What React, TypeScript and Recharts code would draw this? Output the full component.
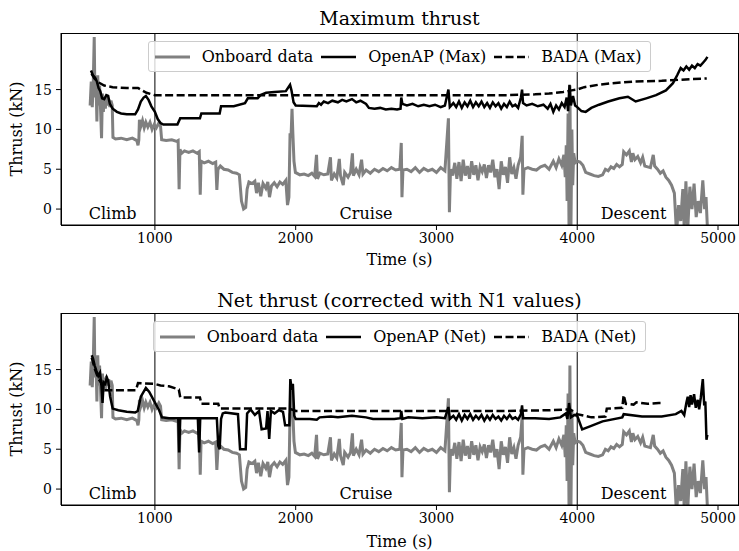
import { Legend, Line, LineChart, ReferenceDot, ReferenceLine, XAxis, YAxis } from "recharts";

const FONT = "'DejaVu Serif', serif";
const GRAY = "#808080";

const timeTicks = [1000, 2000, 3000, 4000, 5000];
const thrustTicks = [0, 5, 10, 15];
const phaseBounds = [1000, 4000];
const phases = [
  { name: "Climb", t: 700 },
  { name: "Cruise", t: 2500 },
  { name: "Descent", t: 4400 }
];

// onboard recorded thrust, same in both panels (t [s], kN)
const onboard: [number, number][] = [
  [540, 13.0], [548, 16.0], [555, 12.8], [562, 15.8], [569, 21.6], [574, 14.0], [581, 16.5], [588, 11.0],
  [594, 16.8], [600, 13.0], [607, 15.5], [614, 12.5], [621, 8.9], [627, 14.5], [634, 12.2], [641, 14.0],
  [648, 12.6], [656, 14.2], [664, 13.0], [672, 13.8], [680, 12.8], [688, 13.6], [697, 13.0], [702, 9.0],
  [720, 8.8], [760, 8.9], [800, 8.7], [840, 8.9], [872, 8.6], [880, 8.0], [886, 8.7], [890, 11.2],
  [900, 10.4], [912, 11.1], [924, 10.2], [936, 10.9], [950, 10.3], [965, 10.9], [980, 10.0], [995, 10.6],
  [1010, 10.2], [1028, 10.8], [1040, 10.4], [1048, 8.7], [1080, 8.6], [1120, 8.7], [1155, 8.5], [1165, 8.6],
  [1172, 2.5], [1178, 7.5], [1190, 7.0], [1210, 7.3], [1240, 7.1], [1270, 7.3], [1300, 7.0], [1315, 7.2],
  [1322, 1.8], [1328, 6.0], [1350, 5.8], [1380, 6.0], [1410, 5.7], [1432, 5.9], [1440, 2.4], [1448, 5.0],
  [1465, 5.4], [1490, 5.0], [1520, 4.9], [1550, 4.6], [1580, 4.5], [1600, 4.3], [1615, 1.0], [1630, 0.0],
  [1645, 0.2], [1655, 2.5], [1668, 3.4], [1690, 3.2], [1710, 3.5], [1722, 2.0], [1735, 3.3], [1752, 1.6],
  [1768, 3.2], [1788, 2.6], [1802, 3.4], [1814, 1.5], [1828, 2.9], [1848, 3.3], [1868, 2.8], [1888, 3.4],
  [1908, 3.1], [1930, 3.6], [1942, 0.5], [1952, 1.5], [1960, 9.5], [1967, 9.0], [1974, 12.6], [1980, 9.5],
  [1988, 6.0], [1998, 4.6], [2030, 4.3], [2060, 4.4], [2090, 4.2], [2115, 4.5], [2135, 4.1], [2148, 6.8],
  [2155, 3.8], [2172, 4.5], [2200, 4.3], [2228, 4.4], [2247, 6.5], [2254, 3.6], [2274, 4.4], [2292, 3.9],
  [2310, 6.3], [2318, 4.2], [2338, 3.0], [2348, 4.6], [2372, 4.0], [2390, 4.6], [2403, 7.0], [2410, 4.2],
  [2430, 5.0], [2450, 4.3], [2468, 6.2], [2478, 4.4], [2500, 4.9], [2530, 4.5], [2560, 5.0], [2590, 4.7],
  [2620, 5.1], [2650, 4.8], [2680, 5.2], [2710, 4.9], [2740, 5.0], [2750, 8.3], [2755, 1.5], [2762, 4.9],
  [2790, 5.0], [2820, 4.7], [2850, 5.2], [2880, 4.6], [2910, 5.1], [2940, 4.8], [2970, 5.0], [3000, 4.6],
  [3030, 5.2], [3060, 4.8], [3085, 11.4], [3092, -0.4], [3100, 5.0], [3115, 4.2], [3130, 5.8], [3145, 3.8],
  [3160, 5.9], [3175, 3.5], [3190, 6.2], [3205, 4.2], [3220, 5.4], [3235, 3.8], [3250, 6.0], [3265, 4.3],
  [3280, 5.5], [3295, 3.6], [3310, 5.3], [3325, 4.7], [3340, 5.6], [3355, 3.9], [3370, 5.5], [3385, 4.6],
  [3400, 6.2], [3415, 4.0], [3430, 5.0], [3445, 2.5], [3460, 6.0], [3475, 4.3], [3490, 5.3], [3505, 3.3],
  [3520, 6.5], [3535, 4.4], [3550, 5.2], [3565, 3.8], [3580, 5.5], [3598, 6.5], [3609, 9.2], [3614, 1.8],
  [3622, 5.0], [3650, 5.2], [3680, 5.0], [3710, 4.9], [3740, 5.3], [3770, 5.5], [3800, 5.0], [3830, 6.0],
  [3850, 5.2], [3870, 6.3], [3890, 5.5], [3905, 6.8], [3915, 4.0], [3922, 8.0], [3928, 1.0], [3935, 12.0],
  [3942, -3.0], [3948, 15.5], [3955, -3.0], [3962, 10.0], [3968, 3.0], [3975, 7.0], [3985, 5.8], [4000, 6.0],
  [4020, 5.9], [4040, 5.5], [4060, 4.6], [4090, 4.4], [4120, 4.2], [4150, 4.1], [4180, 4.3], [4200, 5.0],
  [4220, 4.8], [4240, 5.3], [4260, 5.1], [4280, 5.6], [4300, 5.3], [4320, 5.6], [4330, 7.2], [4350, 6.8],
  [4370, 7.3], [4385, 5.9], [4395, 7.0], [4410, 6.2], [4430, 6.6], [4450, 5.8], [4465, 6.5], [4480, 5.4],
  [4500, 5.3], [4520, 5.2], [4540, 6.8], [4550, 5.4], [4570, 5.0], [4590, 4.5], [4610, 4.8], [4630, 4.0],
  [4650, 3.6], [4670, 3.0], [4690, 2.0], [4705, -3.0], [4720, 0.5], [4735, -1.5], [4750, 2.5], [4760, -2.5],
  [4772, 3.5], [4785, -2.5], [4800, 2.8], [4815, 0.0], [4830, 3.2], [4845, -1.0], [4860, 1.0], [4875, -0.5],
  [4892, 3.6], [4905, 0.0], [4915, 1.5], [4925, -2.5]
];

const openapMax: [number, number][] = [
  [546, 17.4], [560, 16.8], [575, 16.5], [588, 16.0], [600, 15.2], [612, 14.8], [625, 13.9], [640, 13.8],
  [655, 14.3], [668, 14.2], [680, 13.2], [700, 12.6], [730, 12.2], [760, 12.0], [800, 11.9], [860, 11.9],
  [880, 12.5], [900, 13.5], [920, 14.0], [936, 14.2], [955, 13.7], [975, 12.9], [1000, 12.2], [1020, 11.3],
  [1040, 10.8], [1060, 10.6], [1160, 10.6], [1180, 11.4], [1320, 11.4], [1330, 12.0], [1460, 12.0], [1470, 12.9],
  [1560, 12.9], [1640, 13.3], [1660, 13.9], [1730, 13.9], [1750, 14.3], [1790, 14.6], [1850, 14.7], [1930, 14.8],
  [1960, 15.6], [1970, 14.9], [1985, 13.4], [2000, 13.0], [2150, 12.9], [2165, 13.3], [2180, 13.1], [2200, 13.5],
  [2230, 13.3], [2260, 13.6], [2300, 13.4], [2330, 13.7], [2360, 13.5], [2400, 13.8], [2430, 13.4], [2460, 13.6],
  [2500, 13.2], [2520, 12.7], [2560, 12.6], [2600, 12.7], [2640, 12.5], [2680, 12.6], [2720, 12.5], [2745, 12.6],
  [2750, 14.0], [2758, 13.2], [2790, 13.0], [2830, 13.2], [2870, 12.9], [2910, 13.1], [2950, 12.9], [2990, 13.1],
  [3030, 12.8], [3060, 13.0], [3085, 15.0], [3095, 12.8], [3120, 13.3], [3140, 12.8], [3160, 13.5], [3180, 12.7],
  [3200, 13.4], [3220, 12.9], [3240, 13.6], [3260, 12.8], [3280, 13.4], [3300, 12.9], [3320, 13.5], [3340, 12.8],
  [3360, 13.3], [3380, 12.7], [3400, 13.4], [3420, 12.9], [3440, 13.3], [3460, 12.6], [3480, 13.2], [3500, 12.8],
  [3520, 13.5], [3540, 12.9], [3560, 13.1], [3580, 12.7], [3600, 14.0], [3608, 15.0], [3615, 13.3], [3640, 13.0],
  [3680, 13.2], [3720, 12.9], [3760, 13.1], [3790, 12.6], [3810, 13.2], [3830, 12.2], [3850, 13.0], [3870, 12.5],
  [3890, 13.3], [3910, 12.8], [3925, 14.0], [3935, 12.3], [3945, 15.6], [3955, 13.0], [3970, 14.2], [3985, 13.0],
  [4000, 12.8], [4030, 12.3], [4060, 12.2], [4100, 12.7], [4155, 13.1], [4220, 13.5], [4300, 13.9], [4360, 14.1],
  [4415, 13.5], [4490, 13.9], [4560, 14.3], [4630, 14.9], [4680, 15.8], [4710, 16.8], [4735, 17.7], [4755, 17.4],
  [4775, 17.9], [4795, 17.5], [4815, 18.0], [4835, 17.7], [4855, 18.2], [4875, 18.0], [4895, 18.4], [4910, 18.7],
  [4925, 19.1]
];

const badaMax: [number, number][] = [
  [550, 17.0], [570, 16.4], [600, 15.9], [640, 15.5], [700, 15.3], [800, 15.2], [880, 15.2], [940, 14.6],
  [1000, 14.3], [2000, 14.3], [3000, 14.3], [3500, 14.3], [3700, 14.4], [3800, 14.5], [3900, 14.7], [3960, 14.9],
  [4000, 15.0], [4050, 15.3], [4150, 15.6], [4250, 15.8], [4400, 16.0], [4600, 16.1], [4800, 16.3], [4920, 16.4]
];

const openapNet: [number, number][] = [
  [551, 16.8], [560, 16.4], [572, 15.5], [585, 14.8], [598, 14.2], [610, 14.6], [620, 13.0], [628, 10.8],
  [636, 13.4], [648, 13.2], [658, 14.0], [668, 13.6], [682, 11.6], [700, 10.1], [740, 9.9], [800, 9.7],
  [860, 9.6], [878, 9.8], [900, 11.6], [936, 12.7], [960, 12.2], [990, 11.2], [1030, 9.9], [1050, 9.0],
  [1100, 8.9], [1166, 8.9], [1172, 4.6], [1180, 8.9], [1305, 8.9], [1314, 4.6], [1322, 8.9], [1440, 8.9],
  [1450, 5.4], [1460, 5.0], [1470, 8.8], [1482, 9.5], [1500, 9.6], [1590, 9.4], [1605, 5.0], [1645, 5.0],
  [1655, 9.5], [1680, 10.0], [1710, 9.3], [1740, 9.8], [1758, 7.5], [1790, 7.6], [1800, 9.8], [1812, 6.3],
  [1824, 9.8], [1850, 9.5], [1880, 9.9], [1910, 9.7], [1925, 8.0], [1955, 8.0], [1962, 13.8], [1970, 12.8],
  [1980, 13.2], [1990, 9.2], [2000, 8.8], [2100, 8.8], [2150, 8.7], [2170, 9.0], [2250, 9.1], [2300, 9.0],
  [2400, 9.2], [2500, 9.0], [2550, 8.8], [2700, 8.8], [2745, 8.9], [2750, 9.8], [2758, 8.8], [2800, 9.0],
  [2900, 8.9], [3000, 9.0], [3060, 8.9], [3085, 10.3], [3095, 8.8], [3120, 9.2], [3140, 8.7], [3160, 9.4],
  [3180, 8.6], [3200, 9.3], [3220, 8.8], [3240, 9.4], [3260, 8.7], [3280, 9.2], [3300, 8.8], [3320, 9.3],
  [3340, 8.6], [3360, 9.2], [3380, 8.7], [3400, 9.3], [3420, 8.8], [3440, 9.1], [3460, 8.6], [3480, 9.2],
  [3500, 8.8], [3520, 9.3], [3540, 8.8], [3560, 9.0], [3580, 8.7], [3600, 9.4], [3608, 10.5], [3616, 8.9],
  [3700, 8.9], [3800, 8.8], [3880, 9.0], [3920, 9.5], [3930, 8.8], [3942, 10.8], [3955, 9.0], [3980, 9.3],
  [4000, 9.2], [4035, 7.5], [4095, 7.9], [4180, 8.5], [4320, 9.0], [4330, 9.4], [4460, 9.1], [4600, 9.1],
  [4700, 9.4], [4740, 9.8], [4760, 9.3], [4775, 10.8], [4785, 11.6], [4795, 10.3], [4805, 11.8], [4815, 10.6],
  [4830, 11.9], [4842, 10.2], [4856, 11.2], [4866, 10.0], [4878, 11.5], [4892, 13.8], [4902, 10.5], [4910, 11.0],
  [4918, 6.2], [4924, 6.8]
];

const badaNet: [number, number][] = [
  [551, 16.5], [575, 15.0], [600, 13.8], [640, 12.8], [652, 12.4], [865, 12.4], [880, 13.3], [1000, 13.2],
  [1040, 13.0], [1100, 12.9], [1170, 12.5], [1180, 11.5], [1320, 11.5], [1330, 10.7], [1450, 10.7], [1460, 10.1],
  [1950, 10.1], [1990, 9.9], [2000, 9.8], [3500, 9.8], [3800, 9.9], [3950, 10.0], [4000, 9.4], [4100, 9.0],
  [4200, 9.1], [4210, 10.1], [4320, 10.2], [4330, 11.8], [4345, 10.7], [4400, 10.6], [4420, 10.9], [4500, 10.7],
  [4580, 10.8], [4610, 10.8]
];

const toPoints = (rows: [number, number][]) => rows.map(([t, v]) => ({ t, v }));

type LegendItem = { label: string; color: string; width: number; dash?: string };

function LegendBox({ items }: { items: LegendItem[] }) {
  return (
    <div style={{ display: "flex", justifyContent: "center" }}>
      <div
        style={{
          display: "flex",
          alignItems: "center",
          gap: 8,
          height: 29,
          padding: "0 9px 0 6px",
          border: "1px solid #cccccc",
          borderRadius: 3,
          background: "rgba(255,255,255,0.8)",
          fontFamily: FONT,
          fontSize: 16,
          color: "#000"
        }}
      >
        {items.map((it) => (
          <div key={it.label} style={{ display: "flex", alignItems: "center", gap: 12 }}>
            <svg width={35} height={10}>
              <line x1={0} x2={35} y1={5} y2={5} stroke={it.color} strokeWidth={it.width} strokeDasharray={it.dash} />
            </svg>
            <span>{it.label}</span>
          </div>
        ))}
      </div>
    </div>
  );
}

function Panel({
  top,
  title,
  titleY,
  xlabelY,
  model,
  openap,
  bada
}: {
  top: number;
  title: string;
  titleY: number;
  xlabelY: number;
  model: string;
  openap: [number, number][];
  bada: [number, number][];
}) {
  const items: LegendItem[] = [
    { label: "Onboard data", color: GRAY, width: 3 },
    { label: `OpenAP (${model})`, color: "#000", width: 2.5 },
    { label: `BADA (${model})`, color: "#000", width: 2.5, dash: "8 3.5" }
  ];
  const tickStyle = { fill: "#000", fontSize: 14, fontFamily: FONT };
  return (
    <div style={{ position: "absolute", left: 0, top, width: 739, height: 275, fontFamily: FONT }}>
      <div style={{ position: "absolute", left: 61, width: 677, top: titleY - 12, lineHeight: "24px", textAlign: "center", fontSize: 19 }}>
        {title}
      </div>
      <div
        style={{
          position: "absolute",
          left: 16.5 - 60,
          top: 129 - 10,
          width: 120,
          lineHeight: "20px",
          textAlign: "center",
          fontSize: 16,
          transform: "rotate(-90deg)"
        }}
      >
        Thrust (kN)
      </div>
      <div style={{ position: "absolute", left: 61, width: 677, top: xlabelY - 10, lineHeight: "20px", textAlign: "center", fontSize: 16 }}>
        Time (s)
      </div>
      <LineChart width={739} height={275} margin={{ top: 33, right: 1, bottom: 20, left: 11 }}>
        <XAxis
          dataKey="t"
          type="number"
          domain={[333, 5142]}
          ticks={timeTicks}
          allowDataOverflow
          tick={tickStyle}
          tickSize={5}
          tickMargin={3}
          height={30}
          stroke="#000"
        />
        <YAxis
          type="number"
          domain={[-2, 22.1]}
          ticks={thrustTicks}
          allowDataOverflow
          tick={tickStyle}
          tickSize={5}
          tickMargin={4}
          width={50}
          stroke="#000"
        />
        {phaseBounds.map((t) => (
          <ReferenceLine key={t} x={t} stroke="#000" strokeWidth={1} />
        ))}
        <Line data={toPoints(onboard)} dataKey="v" stroke={GRAY} strokeWidth={3} dot={false} isAnimationActive={false} />
        <Line data={toPoints(openap)} dataKey="v" stroke="#000" strokeWidth={2.5} dot={false} isAnimationActive={false} />
        <Line data={toPoints(bada)} dataKey="v" stroke="#000" strokeWidth={2.5} strokeDasharray="8 3.5" dot={false} isAnimationActive={false} />
        {phases.map((p) => (
          <ReferenceDot
            key={p.name}
            x={p.t}
            y={-0.5}
            r={0}
            stroke="none"
            fill="none"
            label={{ value: p.name, position: "center", fill: "#000", fontSize: 16, fontFamily: FONT }}
          />
        ))}
        <Legend
          layout="vertical"
          align="center"
          verticalAlign="middle"
          wrapperStyle={{ left: 61, top: 41, width: 677 }}
          content={() => <LegendBox items={items} />}
        />
      </LineChart>
      <div
        style={{
          position: "absolute",
          left: 60.5,
          top: 32.5,
          width: 678,
          height: 193,
          border: "1px solid #000",
          boxSizing: "border-box",
          pointerEvents: "none"
        }}
      />
    </div>
  );
}

export default function App() {
  return (
    <div style={{ position: "absolute", left: 0, top: 0, width: 739, height: 551, background: "#fff" }}>
      <Panel top={0} title="Maximum thrust" titleY={18} xlabelY={260} model="Max" openap={openapMax} bada={badaMax} />
      <Panel
        top={280}
        title="Net thrust (corrected with N1 values)"
        titleY={20}
        xlabelY={262}
        model="Net"
        openap={openapNet}
        bada={badaNet}
      />
    </div>
  );
}
